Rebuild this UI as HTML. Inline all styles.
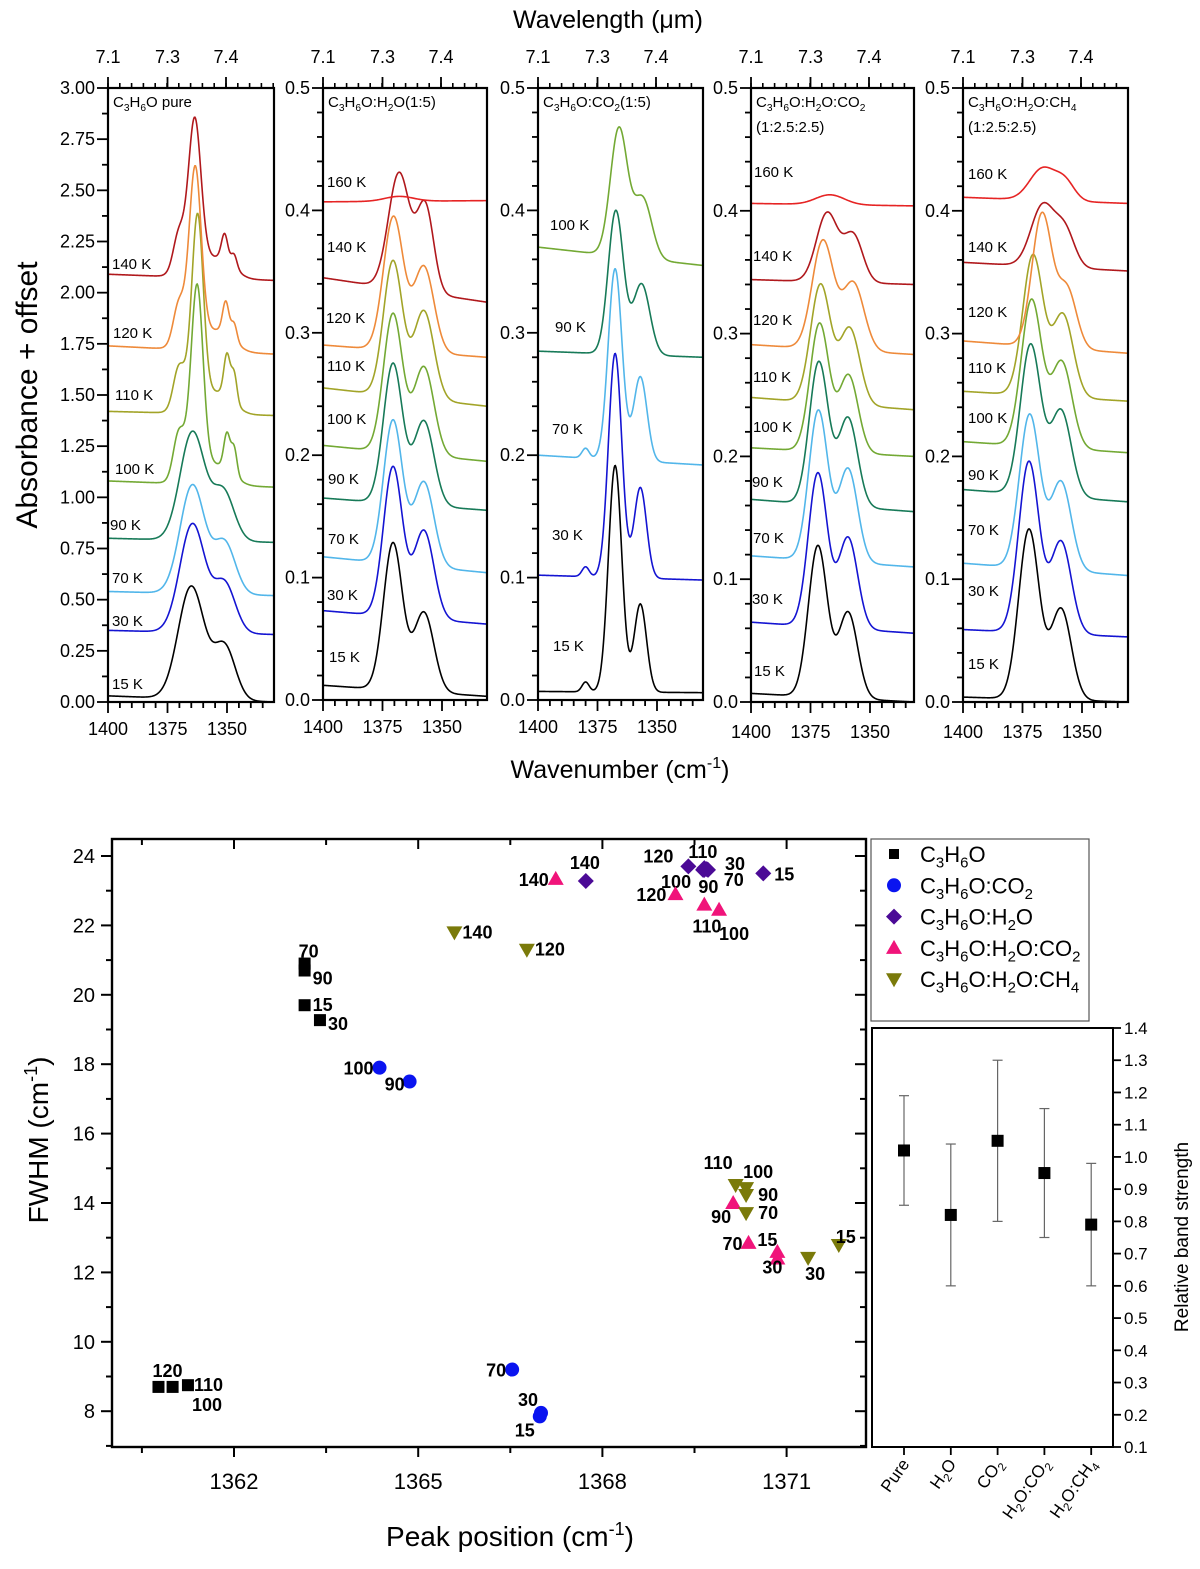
<!DOCTYPE html>
<html><head><meta charset="utf-8"><title>C3H6O spectra</title>
<style>
html,body{margin:0;padding:0;background:#fff;}
svg{display:block;font-family:"Liberation Sans",Arial,sans-serif;}
</style></head>
<body>
<svg id="fig" width="1200" height="1569" viewBox="0 0 1200 1569" xmlns="http://www.w3.org/2000/svg"></svg>
<script>
// ---------- Spectra data (absorbance + offset) ----------
const p1Temps = ['15 K','30 K','70 K','90 K','100 K','110 K','120 K','140 K'];
const p1BaseL = [0.03,0.35,0.54,0.80,1.08,1.42,1.74,2.09];
const p1BaseR = [0.00,0.33,0.52,0.78,1.05,1.40,1.70,2.06];
const p1Peaks = [
 [[1365,0.55,5.5],[1351,0.26,4.5]],
 [[1364.5,0.53,5.3],[1351,0.24,4.5]],
 [[1364.5,0.53,5.2],[1351,0.25,4.5]],
 [[1364.5,0.53,5.2],[1351.5,0.24,4.5]],
 [[1370.5,0.18,2.2],[1364,0.22,4.5],[1362.5,0.76,2.4],[1350,0.17,1.3],[1347,0.13,1.2],[1352,0.09,5]],
 [[1370.5,0.16,2.2],[1364,0.2,4.5],[1362.3,0.78,2.3],[1350,0.2,1.3],[1347,0.14,1.2],[1352,0.1,5]],
 [[1370.5,0.15,2.2],[1364.5,0.2,4.5],[1363.3,0.7,2.4],[1350.5,0.15,1.3],[1347,0.08,1.2],[1352,0.1,5]],
 [[1370.5,0.14,2.2],[1364.5,0.2,4.5],[1363.5,0.58,2.5],[1351,0.12,1.3],[1347,0.06,1.2],[1352,0.1,5]]
];
const p2Temps = ['15 K','30 K','70 K','90 K','100 K','110 K','120 K','140 K','160 K'];
const p2BaseL = [0.012,0.073,0.117,0.165,0.208,0.255,0.290,0.345,0.407];
const p2BaseR = [0.003,0.062,0.104,0.155,0.195,0.240,0.280,0.325,0.408];
const p2Peaks = [
 [[1370.6,0.12,4],[1357.6,0.065,4.2]],
 [[1370.6,0.122,4],[1357.6,0.072,4.2]],
 [[1370.6,0.117,4],[1357.6,0.069,4.2]],
 [[1370.6,0.114,4],[1357.6,0.069,4.2]],
 [[1370.6,0.113,4],[1357.6,0.072,4.2]],
 [[1370.6,0.11,4],[1357.6,0.072,4.2]],
 [[1370.4,0.109,4.2],[1357.6,0.07,4.2]],
 [[1368,0.095,4.5],[1357,0.07,3.5]],
 [[1368,0.004,6]]
];
const p3Temps = ['15 K','30 K','70 K','90 K','100 K'];
const p3BaseL = [0.007,0.102,0.200,0.285,0.370];
const p3BaseR = [0.006,0.098,0.192,0.280,0.355];
const p3Peaks = [
 [[1367.6,0.185,2.8],[1357,0.072,2.6],[1380,0.008,1.5]],
 [[1367.6,0.183,2.8],[1357,0.074,2.6],[1380,0.008,1.5]],
 [[1367.6,0.156,2.9],[1357,0.069,2.8],[1380,0.008,1.5]],
 [[1367.3,0.117,3.2],[1356.5,0.058,3.5]],
 [[1366,0.104,3.6],[1356,0.049,3.8]]
];
const p4Temps = ['15 K','30 K','70 K','90 K','100 K','110 K','120 K','140 K','160 K'];
const p4BaseL = [0.007,0.065,0.119,0.165,0.207,0.248,0.291,0.344,0.406];
const p4BaseR = [0.000,0.056,0.110,0.155,0.200,0.238,0.283,0.340,0.404];
const p4Peaks = [
 [[1371.9,0.123,4],[1359.2,0.07,4]],
 [[1371.9,0.125,4],[1359.2,0.074,4]],
 [[1371.7,0.122,4],[1359.2,0.076,4]],
 [[1371.5,0.116,4],[1359.2,0.072,4]],
 [[1371.2,0.104,4],[1359,0.063,4]],
 [[1370.8,0.096,4.2],[1358.5,0.062,4.2]],
 [[1369.8,0.088,4.5],[1357,0.055,4.5]],
 [[1368,0.056,4.5],[1357,0.038,4]],
 [[1366.8,0.008,6]]
];
const p5Temps = ['15 K','30 K','70 K','90 K','100 K','110 K','120 K','140 K','160 K'];
const p5BaseL = [0.004,0.059,0.113,0.173,0.212,0.253,0.294,0.358,0.411];
const p5BaseR = [0.000,0.053,0.103,0.163,0.203,0.245,0.284,0.351,0.406];
const p5Peaks = [
 [[1372.3,0.138,4.3],[1358.8,0.074,4.3]],
 [[1372.3,0.139,4.3],[1358.8,0.075,4.3]],
 [[1372,0.125,4.3],[1358.8,0.072,4.3]],
 [[1371.6,0.122,4.3],[1358.8,0.07,4.3]],
 [[1371.2,0.119,4.3],[1358.5,0.07,4.3]],
 [[1370.6,0.114,4.3],[1358,0.067,4.3]],
 [[1366.8,0.108,4.2],[1356.3,0.048,4]],
 [[1366.4,0.05,5],[1357,0.028,4]],
 [[1366.4,0.026,5.5],[1357,0.014,4]]
];
// ---------- Scatter data (peak position vs FWHM) ----------
const sPureT = ['70','90','15','30','120','100','110'];
const sPureX = [1363.15,1363.15,1363.15,1363.4,1360.77,1361.0,1361.25];
const sPureY = [20.9,20.7,19.7,19.27,8.7,8.7,8.75];
const sCO2T = ['100','90','70','30','15'];
const sCO2X = [1364.37,1364.86,1366.53,1367.0,1366.98];
const sCO2Y = [17.9,17.5,9.2,7.95,7.85];
const sH2OT = ['140','120','110','100','90','70','30','15'];
const sH2OX = [1367.73,1369.4,1369.66,1369.64,1369.66,1369.7,1369.72,1370.62];
const sH2OY = [23.28,23.7,23.65,23.6,23.6,23.62,23.6,23.5];
const sCO2mT = ['140','120','110','100','90','70','15','30'];
const sCO2mX = [1367.24,1369.19,1369.66,1369.9,1370.13,1370.38,1370.85,1370.85];
const sCO2mY = [23.34,22.9,22.6,22.45,14.0,12.85,12.59,12.4];
const sCH4T = ['140','120','110','100','90','70','30','15'];
const sCH4X = [1365.59,1366.77,1370.17,1370.34,1370.34,1370.34,1371.35,1371.85];
const sCH4Y = [21.8,21.3,14.52,14.43,14.23,13.71,12.42,12.79];
const xTicks = [1362,1365,1368,1371];
const yTicks = [8,10,12,14,16,18,20,22,24];
// ---------- Band strength ----------
const bandCats = ['Pure','H2O','CO2','H2O:CO2','H2O:CH4'];
const bandVal = [1.02,0.82,1.05,0.95,0.79];
const bandLo = [0.85,0.60,0.80,0.75,0.60];
const bandHi = [1.19,1.04,1.30,1.15,0.98];
const bandTicks = [0.1,0.2,0.3,0.4,0.5,0.6,0.7,0.8,0.9,1.0,1.1,1.2,1.3,1.4];

const NS='http://www.w3.org/2000/svg';
const svg=document.getElementById('fig');
function mk(tag,attrs,parent){const e=document.createElementNS(NS,tag);for(const k in attrs)e.setAttribute(k,attrs[k]);(parent||svg).appendChild(e);return e;}
function txt(s,x,y,size,anchor,parent,extra){const t=mk('text',Object.assign({x:x,y:y,'font-size':size,'text-anchor':anchor||'start',fill:'#000'},extra||{}),parent);t.textContent=s;return t;}
function subText(parts,x,y,size,anchor,parent){
  const t=mk('text',{x:x,y:y,'font-size':size,'text-anchor':anchor||'start',fill:'#000'},parent);
  let prevSub=false;
  parts.forEach(p=>{const ts=mk('tspan',{},t);ts.textContent=p[0];
    if(p[1]){ts.setAttribute('font-size',size*0.68);ts.setAttribute('dy',prevSub?0:size*0.25);}
    else{ts.setAttribute('dy',prevSub?-size*0.25:0);}
    prevSub=!!p[1];});
  return t;}

const tempColor={'15 K':'#000000','30 K':'#1414d2','70 K':'#52b6ea','90 K':'#177a58','100 K':'#73a934','110 K':'#a2a428','120 K':'#ee8a3a','140 K':'#b0181c','160 K':'#e62424'};
const panels=[
 {left:108,right:274,top:88,bottom:702,ymax:3,major:0.25,minor:0.125,dec:2,temps:p1Temps,bl:p1BaseL,br:p1BaseR,pk:p1Peaks,name:'pure',
  title:[[['C',0],['3',1],['H',0],['6',1],['O pure',0]]],
  lab:[[112,689],[112,626],[112,583],[110,530],[115,474],[115,400],[113,338],[112,269]]},
 {left:323,right:487,top:88,bottom:700,ymax:0.5,major:0.1,minor:0.02,dec:1,temps:p2Temps,bl:p2BaseL,br:p2BaseR,pk:p2Peaks,name:'h2o',
  title:[[['C',0],['3',1],['H',0],['6',1],['O:H',0],['2',1],['O(1:5)',0]]],
  lab:[[329,662],[327,600],[328,544],[328,484],[327,424],[327,371],[326,323],[327,252],[327,187]]},
 {left:538,right:703,top:88,bottom:700,ymax:0.5,major:0.1,minor:0.02,dec:1,temps:p3Temps,bl:p3BaseL,br:p3BaseR,pk:p3Peaks,name:'co2',
  title:[[['C',0],['3',1],['H',0],['6',1],['O:CO',0],['2',1],['(1:5)',0]]],
  lab:[[553,651],[552,540],[552,434],[555,332],[550,230]]},
 {left:751,right:914,top:88,bottom:702,ymax:0.5,major:0.1,minor:0.02,dec:1,temps:p4Temps,bl:p4BaseL,br:p4BaseR,pk:p4Peaks,name:'h2o-co2',
  title:[[['C',0],['3',1],['H',0],['6',1],['O:H',0],['2',1],['O:CO',0],['2',1]],[['(1:2.5:2.5)',0]]],
  lab:[[754,676],[752,604],[753,543],[752,487],[753,432],[753,382],[753,325],[753,261],[754,177]]},
 {left:963,right:1128,top:88,bottom:702,ymax:0.5,major:0.1,minor:0.02,dec:1,temps:p5Temps,bl:p5BaseL,br:p5BaseR,pk:p5Peaks,name:'h2o-ch4',
  title:[[['C',0],['3',1],['H',0],['6',1],['O:H',0],['2',1],['O:CH',0],['4',1]],[['(1:2.5:2.5)',0]]],
  lab:[[968,669],[968,596],[968,535],[968,480],[968,423],[968,373],[968,317],[968,252],[968,179]]}
];
const PXW=59.5/25;
panels.forEach((P,pi)=>{
  const g=mk('g',{});
  
  
  const X=wn=>P.left+(1400-wn)*PXW;
  const Y=v=>P.bottom-(v/P.ymax)*(P.bottom-P.top);
  const wnEnd=1400-(P.right-P.left)/PXW;
  P.temps.forEach((t,i)=>{
    let d='';
    for(let wn=1400;wn>=wnEnd-0.001;wn-=0.25){
      let v=P.bl[i]+(P.br[i]-P.bl[i])*(1400-wn)/(1400-wnEnd);
      P.pk[i].forEach(c=>{v+=c[1]*Math.exp(-Math.pow(wn-c[0],2)/(2*c[2]*c[2]));});
      d+=(d?'L':'M')+X(wn).toFixed(2)+','+Y(v).toFixed(2);
    }
    const p=mk('path',{d:d,fill:'none',stroke:tempColor[t],'stroke-width':1.6},g);
    
    
    const l=txt(t,P.lab[i][0],P.lab[i][1],15,'start',g);
    
    
  });
  const fr=mk('rect',{x:P.left,y:P.top,width:P.right-P.left,height:P.bottom-P.top,fill:'none',stroke:'#000','stroke-width':2.2},g);
  
  
  const nMinor=Math.round(P.ymax/P.minor);
  for(let k=0;k<=nMinor;k++){
    const v=k*P.minor;const y=Y(v);
    const isMaj=Math.abs(v/P.major-Math.round(v/P.major))<1e-6;
    mk('line',{x1:P.left-(isMaj?11:6),x2:P.left,y1:y,y2:y,stroke:'#000','stroke-width':1.8},g);
    if(isMaj){const tl=txt(v.toFixed(P.dec),P.left-13,y+6,18,'end',g);
      
      }
  }
  for(let wn=1400;wn>=wnEnd;wn-=5){
    const x=X(wn);const isMaj=(wn%25===0);
    mk('line',{x1:x,x2:x,y1:P.bottom,y2:P.bottom+(isMaj?11:6),stroke:'#000','stroke-width':1.8},g);
    if(isMaj){const tl=txt(String(wn),x,P.bottom+(pi>=3?36:33),18,'middle',g);
      
      }
  }
  const topMaj=[[0,'7.1'],[59.5,'7.3'],[118,'7.4']];
  for(let dx=0;dx<=P.right-P.left;dx+=11.8){
    mk('line',{x1:P.left+dx,x2:P.left+dx,y1:P.top,y2:P.top-5,stroke:'#000','stroke-width':1.6},g);
  }
  topMaj.forEach(m=>{
    mk('line',{x1:P.left+m[0],x2:P.left+m[0],y1:P.top,y2:P.top-11,stroke:'#000','stroke-width':1.8},g);
    const tl=txt(m[1],P.left+m[0],63,18,'middle',g);
    
    
  });
  P.title.forEach((line,li)=>{
    const tt=subText(line,P.left+5,P.top+19+li*25,15,'start',g);
    
    
  });
});
let t1=txt('Wavelength (\u03bcm)',608,28,25,'middle');


let t2=mk('text',{x:620,y:778,'font-size':25,'text-anchor':'middle',fill:'#000'});


t2.innerHTML='Wavenumber (cm<tspan font-size="16" dy="-10">-1</tspan><tspan dy="10">)</tspan>';
let t3=txt('Absorbance + offset',37,395,30,'middle',null,{transform:'rotate(-90 37 395)'});



// ---------- Scatter plot ----------
const S={left:112,right:866,top:839,bottom:1447};
const sx=v=>234+(v-1362)*61.4;
const sy=v=>856+(24-v)*34.7;
const sg=mk('g',{});


const sfr=mk('rect',{x:S.left,y:S.top,width:S.right-S.left,height:S.bottom-S.top,fill:'none',stroke:'#000','stroke-width':2.4},sg);


for(let v=1360.5;v<=1372.3;v+=1.5){
  const x=sx(v);const maj=xTicks.some(t=>Math.abs(t-v)<1e-6);
  mk('line',{x1:x,x2:x,y1:S.bottom,y2:S.bottom+(maj?10:6),stroke:'#000','stroke-width':2},sg);
  mk('line',{x1:x,x2:x,y1:S.top,y2:S.top+(maj?10:6),stroke:'#000','stroke-width':2},sg);
}
xTicks.forEach(v=>{const tl=txt(String(v),sx(v),1489,22,'middle',sg);
  
  });
for(let v=7;v<=24;v+=1){
  const y=sy(v);const maj=(v%2===0);
  mk('line',{x1:S.left-(maj?11:6),x2:S.left,y1:y,y2:y,stroke:'#000','stroke-width':2},sg);
  mk('line',{x1:S.right-(maj?11:6),x2:S.right,y1:y,y2:y,stroke:'#000','stroke-width':2},sg);
}
yTicks.forEach(v=>{const tl=txt(String(v),S.left-17,sy(v)+7,20,'end',sg);
  
  });
let st1=mk('text',{x:510,y:1546,'font-size':28,'text-anchor':'middle',fill:'#000'},sg);


st1.innerHTML='Peak position (cm<tspan font-size="18" dy="-11">-1</tspan><tspan dy="11">)</tspan>';
let st2=mk('text',{x:48,y:1140,'font-size':28,'text-anchor':'middle',fill:'#000',transform:'rotate(-90 48 1140)'},sg);


st2.innerHTML='FWHM (cm<tspan font-size="18" dy="-11">-1</tspan><tspan dy="11">)</tspan>';

function marker(kind,x,y,parent){
  if(kind==='sq')return mk('rect',{x:x-6,y:y-6,width:12,height:12,fill:'#000'},parent);
  if(kind==='ci')return mk('circle',{cx:x,cy:y,r:7,fill:'#0a14f0'},parent);
  if(kind==='di')return mk('path',{d:`M${x},${y-8}L${x+8},${y}L${x},${y+8}L${x-8},${y}Z`,fill:'#4b0a96'},parent);
  if(kind==='up')return mk('path',{d:`M${x},${y-8}L${x+8},${y+6}L${x-8},${y+6}Z`,fill:'#f0147a'},parent);
  return mk('path',{d:`M${x-8},${y-6}L${x+8},${y-6}L${x},${y+8}Z`,fill:'#7a7a0a'},parent);
}
const offPure=[[-6,-6,'start'],[8,14,'start'],[8,6,'start'],[8,10,'start'],[-6,-10,'start'],[-99,0,'none'],[6,6,'start']];
const offCO2=[[-6,7,'end'],[-5,9,'end'],[-6,7,'end'],[-3,-7,'end'],[-5,20,'end']];
const offH2O=[[-16,-12,'start'],[-15,-4,'end'],[-16,-10,'start'],[-12,18,'end'],[-6,23,'start'],[17,17,'start'],[17,0,'start'],[11,7,'start']];
const offCO2m=[[-7,7,'end'],[-9,7,'end'],[-12,28,'start'],[0,30,'start'],[-22,20,'start'],[-26,7,'start'],[-20,-6,'start'],[-15,15,'start']];
const offCH4=[[8,6,'start'],[8,6,'start'],[-32,-16,'start'],[-3,-10,'start'],[12,6,'start'],[12,6,'start'],[-3,22,'start'],[-3,-2,'start']];
const series=[
 ['c3h6o','sq',sPureT,sPureX,sPureY,offPure],
 ['c3h6o-co2','ci',sCO2T,sCO2X,sCO2Y,offCO2],
 ['c3h6o-h2o','di',sH2OT,sH2OX,sH2OY,offH2O],
 ['c3h6o-h2o-co2','up',sCO2mT,sCO2mX,sCO2mY,offCO2m],
 ['c3h6o-h2o-ch4','dn',sCH4T,sCH4X,sCH4Y,offCH4]
];
series.forEach(s=>{
  const gg=mk('g',{},sg);
  
  
  s[2].forEach((t,i)=>{
    const x=sx(s[3][i]),y=sy(s[4][i]);
    const m=marker(s[1],x,y,gg);
    
    
    const o=s[5][i];
    let lx=x+o[0],ly=y+o[1];
    if(s[0]==='c3h6o'&&t==='100'){lx=sx(s[3][6])+4;ly=sy(s[4][6])+26;}
    const l=txt(t,lx,ly,18,o[2]==='none'?'start':o[2],gg,{'font-weight':'bold'});
    
    
  });
});
const lg=mk('g',{});


mk('rect',{x:871,y:839,width:218,height:182,fill:'#fff',stroke:'#555','stroke-width':1.2},lg);
const legRows=[['sq',[['C',0],['3',1],['H',0],['6',1],['O',0]]],['ci',[['C',0],['3',1],['H',0],['6',1],['O:CO',0],['2',1]]],['di',[['C',0],['3',1],['H',0],['6',1],['O:H',0],['2',1],['O',0]]],['up',[['C',0],['3',1],['H',0],['6',1],['O:H',0],['2',1],['O:CO',0],['2',1]]],['dn',[['C',0],['3',1],['H',0],['6',1],['O:H',0],['2',1],['O:CH',0],['4',1]]]];
legRows.forEach((r,i)=>{
  const y=854+i*31.3;
  const e=mk('g',{},lg);
  
  
  const m=marker(r[0],894,y,e);
  if(r[0]==='sq'){m.setAttribute('x',889);m.setAttribute('y',y-5);m.setAttribute('width',10);m.setAttribute('height',10);}
  subText(r[1],920,y+8,22,'start',e);
});
const B={left:872,right:1113,top:1028,bottom:1447};
const by=v=>B.bottom-(v-0.1)*(B.bottom-B.top)/1.3;
const bx=i=>904+i*46.8;
const bg=mk('g',{});


mk('rect',{x:B.left,y:B.top,width:B.right-B.left,height:B.bottom-B.top,fill:'none',stroke:'#000','stroke-width':2},bg);
bandTicks.forEach(v=>{
  const y=by(v);
  mk('line',{x1:B.right,x2:B.right+8,y1:y,y2:y,stroke:'#000','stroke-width':1.8},bg);
  const tl=txt(v.toFixed(1),B.right+11,y+6,17,'start',bg);
  
  
});
let bt=txt('Relative band strength',1188,1237,19,'middle',bg,{transform:'rotate(-90 1188 1237)'});


const catParts={'Pure':[['Pure',0]],'H2O':[['H',0],['2',1],['O',0]],'CO2':[['CO',0],['2',1]],'H2O:CO2':[['H',0],['2',1],['O:CO',0],['2',1]],'H2O:CH4':[['H',0],['2',1],['O:CH',0],['4',1]]};
bandCats.forEach((c,i)=>{
  const x=bx(i);
  mk('line',{x1:x,x2:x,y1:B.bottom,y2:B.bottom+8,stroke:'#000','stroke-width':1.8},bg);
  const eb=mk('g',{},bg);
  
  
  mk('line',{x1:x,x2:x,y1:by(bandHi[i]),y2:by(bandLo[i]),stroke:'#666','stroke-width':1.2},eb);
  mk('line',{x1:x-5,x2:x+5,y1:by(bandHi[i]),y2:by(bandHi[i]),stroke:'#666','stroke-width':1.2},eb);
  mk('line',{x1:x-5,x2:x+5,y1:by(bandLo[i]),y2:by(bandLo[i]),stroke:'#666','stroke-width':1.2},eb);
  const pt=mk('rect',{x:x-6,y:by(bandVal[i])-6,width:12,height:12,fill:'#000'},bg);
  
  
  const lab=subText(catParts[c],x+6,B.bottom+17,17,'end',bg);
  lab.setAttribute('transform',`rotate(-55 ${x+6} ${B.bottom+17})`);
  
  
});
</script>
</body></html>
